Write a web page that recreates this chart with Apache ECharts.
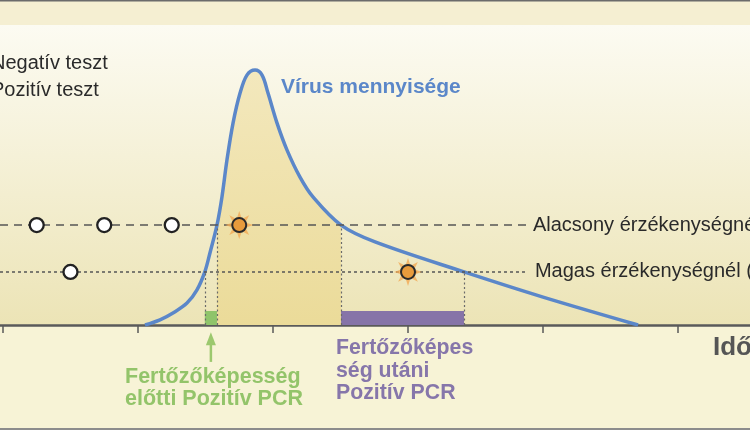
<!DOCTYPE html>
<html>
<head>
<meta charset="utf-8">
<script src="https://cdn.jsdelivr.net/npm/echarts@6/dist/echarts.min.js"></script>
<style>
  html, body { margin: 0; padding: 0; background: #f7f3d6; }
  #chart { width: 750px; height: 430px; }
</style>
</head>
<body>
<div id="chart"></div>
<script>
'use strict';

//time axis ticks (no labels on the axis)
var timeTicks = [0, 1, 2, 3, 4, 5];

//virus load over time [time, load]
var virusLoad = [
  [1.052, 0], [1.163, 1.7], [1.259, 4], [1.363, 7.3], [1.437, 11.7],
  [1.495, 17.7], [1.533, 24], [1.585, 33.3], [1.622, 42.7], [1.659, 55],
  [1.704, 67.3], [1.756, 77.3], [1.807, 83.3], [1.867, 85], [1.919, 83.3],
  [1.963, 77.3], [2.03, 67.3], [2.104, 58.3], [2.2, 49.3], [2.296, 42.7],
  [2.504, 33.3], [2.756, 27.7], [3.415, 17.7], [4.0, 9.3], [4.704, 0]
];

//detection thresholds
var lowSensLevel = 33.3;
var highSensLevel = 17.7;

//where the curve crosses the thresholds
var highSensStart = 1.495;
var lowSensStart = 1.585;
var lowSensEnd = 2.504;
var highSensEnd = 3.415;
var thresholdLineEnd = 3.881;

//test results (times)
var lowSensNegative = [0.25, 0.75, 1.25];
var lowSensPositive = [1.75];
var highSensNegative = [0.5];
var highSensPositive = [3.0];

//PCR positive bars [start, end, height]
var prePcr = [[highSensStart, lowSensStart, 4.67]];
var postPcr = [[lowSensEnd, highSensEnd, 4.67]];

var FONT = '"Liberation Sans", Arial, sans-serif';

//infectious part of the curve
var infectious = virusLoad.filter(function(p) {
  return p[0] >= lowSensStart && p[0] <= lowSensEnd;
});

function atLevel(times, level) {
  return times.map(function(t) { return [t, level]; });
}

//star burst symbol for positive results
function burstPath() {
  var pts = [];
  for (var i = 0; i < 16; i++) {
    var a = i * Math.PI / 8 - Math.PI / 2;
    var r = i % 2 ? 24 : 50;
    pts.push((50 + r * Math.cos(a)).toFixed(2) + ' ' + (50 + r * Math.sin(a)).toFixed(2));
  }
  return 'path://M' + pts.join(' L') + ' Z';
}

function pcrBar(color) {
  return function(params, api) {
    var p0 = api.coord([api.value(0), api.value(2)]);
    var p1 = api.coord([api.value(1), 0]);
    return {
      type: 'rect',
      shape: { x: p0[0], y: p0[1], width: p1[0] - p0[0], height: p1[1] - p0[1] },
      style: { fill: color }
    };
  };
}

var chart = echarts.init(document.getElementById('chart'));

var options = {
  backgroundColor: '#f7f3d6',
  animation: false,
  grid: {
    left: 0, right: 0, top: 25, bottom: 105,
    show: true, borderWidth: 0,
    backgroundColor: new echarts.graphic.LinearGradient(0, 0, 0, 1, [
      { offset: 0, color: '#fcfbf2' },
      { offset: 1, color: '#ece4b6' }
    ])
  },
  legend: {
    orient: 'vertical',
    left: -27, top: 53, padding: 0,
    itemWidth: 12, itemHeight: 14, itemGap: 6,
    selectedMode: false,
    data: ['Negatív teszt', 'Pozitív teszt'],
    textStyle: { fontFamily: FONT, fontSize: 20, color: '#2a2a2a', lineHeight: 21 }
  },
  xAxis: {
    type: 'value', min: -0.022, max: 5.533,
    splitLine: { show: false },
    axisLine: { lineStyle: { color: '#5a5a5a', width: 2.5 } },
    axisTick: { show: true, customValues: timeTicks, length: 8, lineStyle: { color: '#5a5a5a', width: 1.5 } },
    axisLabel: { show: false }
  },
  yAxis: {
    type: 'value', min: 0, max: 100,
    show: false, splitLine: { show: false }
  },
  graphic: [
    { type: 'rect', z: -10, shape: { x: 0, y: 0, width: 750, height: 25 }, style: { fill: '#f5efd2' } },
    { type: 'rect', shape: { x: 0, y: 0, width: 750, height: 1.5 }, style: { fill: '#6b6b6b' } },
    { type: 'rect', shape: { x: 0, y: 428, width: 750, height: 2 }, style: { fill: '#8c8c8c' } },
    { type: 'text', left: 281, top: 77,
      style: { text: 'Vírus mennyisége', fill: '#5b87c9', font: 'bold 21px ' + FONT } },
    { type: 'text', left: 236, top: 289,
      style: { text: 'Fertőző', fill: '#222', font: 'bold 21px ' + FONT } },
    { type: 'text', left: 125, top: 366,
      style: { text: 'Fertőzőképesség\nelőtti Pozitív PCR', fill: '#93c46a', align: 'center',
        font: 'bold 21.5px ' + FONT, lineHeight: 22 } },
    { type: 'text', left: 336, top: 337,
      style: { text: 'Fertőzőképes\nség utáni\nPozitív PCR', fill: '#8676aa',
        font: 'bold 21.3px ' + FONT, lineHeight: 22.5 } },
    { type: 'text', left: 713, top: 335,
      style: { text: 'Idő', fill: '#555', font: 'bold 26px ' + FONT } }
  ],
  series: [
    {
      //infectious area under the curve
      type: 'line', silent: true, smooth: 0.35, symbol: 'none', z: 1,
      data: infectious,
      lineStyle: { opacity: 0 },
      areaStyle: {
        opacity: 1,
        color: new echarts.graphic.LinearGradient(0, 0, 0, 1, [
          { offset: 0, color: '#f3e8bd' },
          { offset: 1, color: '#ebdb99' }
        ])
      }
    },
    {
      type: 'custom', name: 'prePcr', silent: true, z: 2,
      renderItem: pcrBar('#8fc46a'), data: prePcr
    },
    {
      type: 'custom', name: 'postPcr', silent: true, z: 2,
      renderItem: pcrBar('#8674a8'), data: postPcr
    },
    {
      //threshold lines and crossing guides
      type: 'line', silent: true, data: [], z: 3,
      markLine: {
        silent: true, symbol: 'none', animation: false,
        data: [
          [{ coord: [-0.022, lowSensLevel], lineStyle: { type: [8, 6], width: 1.6, color: '#555' },
             label: { show: true, position: 'end', distance: 6, formatter: 'Alacsony érzékenységnél',
               fontFamily: FONT, fontSize: 20, color: '#2a2a2a' } },
           { coord: [thresholdLineEnd, lowSensLevel] }],
          [{ coord: [-0.022, highSensLevel], lineStyle: { type: [3, 3], width: 1.6, color: '#555' },
             label: { show: true, position: 'end', distance: 8, formatter: 'Magas érzékenységnél (',
               fontFamily: FONT, fontSize: 20, color: '#2a2a2a' } },
           { coord: [thresholdLineEnd, highSensLevel] }],
          [{ coord: [highSensStart, 0] }, { coord: [highSensStart, highSensLevel] }],
          [{ coord: [lowSensStart, 0] }, { coord: [lowSensStart, lowSensLevel] }],
          [{ coord: [lowSensEnd, 0] }, { coord: [lowSensEnd, lowSensLevel] }],
          [{ coord: [highSensEnd, 0] }, { coord: [highSensEnd, highSensLevel] }]
        ],
        lineStyle: { type: [2, 2.5], width: 1.2, color: '#6a6a6a' },
        label: { show: false }
      }
    },
    {
      name: 'Virus', type: 'line', smooth: 0.35, symbol: 'none', z: 4,
      data: virusLoad,
      lineStyle: { color: '#5b87c9', width: 3.5 }
    },
    {
      //pointer to the pre-infectious PCR bar
      type: 'custom', silent: true, z: 4,
      renderItem: function(params, api) {
        var tip = api.coord([api.value(0), api.value(1)]);
        var base = api.coord([api.value(0), api.value(2)]);
        return {
          type: 'group',
          children: [
            { type: 'line', shape: { x1: tip[0], y1: tip[1] + 10, x2: base[0], y2: base[1] },
              style: { stroke: '#9cc86e', lineWidth: 2.5 } },
            { type: 'polygon', shape: { points: [[tip[0], tip[1]], [tip[0] - 5, tip[1] + 13], [tip[0] + 5, tip[1] + 13]] },
              style: { fill: '#9cc86e' } }
          ]
        };
      },
      data: [[(highSensStart + lowSensStart) / 2, -2.4, -12.3]]
    },
    {
      name: 'burst', type: 'scatter', silent: true, z: 5,
      symbol: burstPath(), symbolSize: 28,
      itemStyle: { color: '#f3aa55' },
      data: atLevel(lowSensPositive, lowSensLevel).concat(atLevel(highSensPositive, highSensLevel))
    },
    {
      name: 'Negatív teszt', type: 'scatter', silent: true, z: 6,
      symbol: 'circle', symbolSize: 14,
      itemStyle: { color: '#ffffff', borderColor: '#222', borderWidth: 2.3, opacity: 1 },
      data: atLevel(lowSensNegative, lowSensLevel).concat(atLevel(highSensNegative, highSensLevel))
    },
    {
      name: 'Pozitív teszt', type: 'scatter', silent: true, z: 6,
      symbol: 'circle', symbolSize: 14,
      itemStyle: { color: '#e89b3c', borderColor: '#2a2a2a', borderWidth: 2, opacity: 1 },
      data: atLevel(lowSensPositive, lowSensLevel).concat(atLevel(highSensPositive, highSensLevel))
    }
  ]
};

chart.setOption(options);
</script>
</body>
</html>
